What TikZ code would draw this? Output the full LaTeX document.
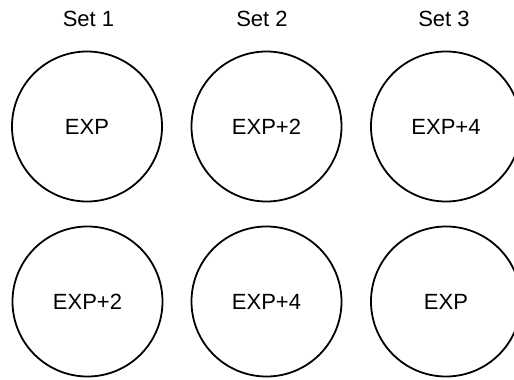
\documentclass[tikz,border=0pt]{standalone}
\usepackage{fontspec}
\setmainfont{Liberation Sans}
\begin{document}
\begin{tikzpicture}[x=1pt,y=-1pt,
  ring/.style={circle,draw=black,line width=1.8pt,minimum size=150pt,inner sep=0pt,
    font=\fontsize{22}{26}\selectfont},
  heading/.style={font=\fontsize{22}{26}\selectfont,inner sep=0pt}]
  \useasboundingbox (0,0) rectangle (514,380);
  % column headings
  \node[heading] (h1) at (88.5,19) {Set 1};
  \node[heading] (h2) at (262,19) {Set 2};
  \node[heading] (h3) at (444,19) {Set 3};
  % top row
  \node[ring] (a1) at (87,126.5) {EXP};
  \node[ring] (a2) at (266.5,126.5) {EXP+2};
  \node[ring] (a3) at (446,126.5) {EXP+4};
  % bottom row
  \node[ring] (b1) at (87.5,301.5) {EXP+2};
  \node[ring] (b2) at (266.5,301.5) {EXP+4};
  \node[ring] (b3) at (446,301.5) {EXP};
\end{tikzpicture}
\end{document}
